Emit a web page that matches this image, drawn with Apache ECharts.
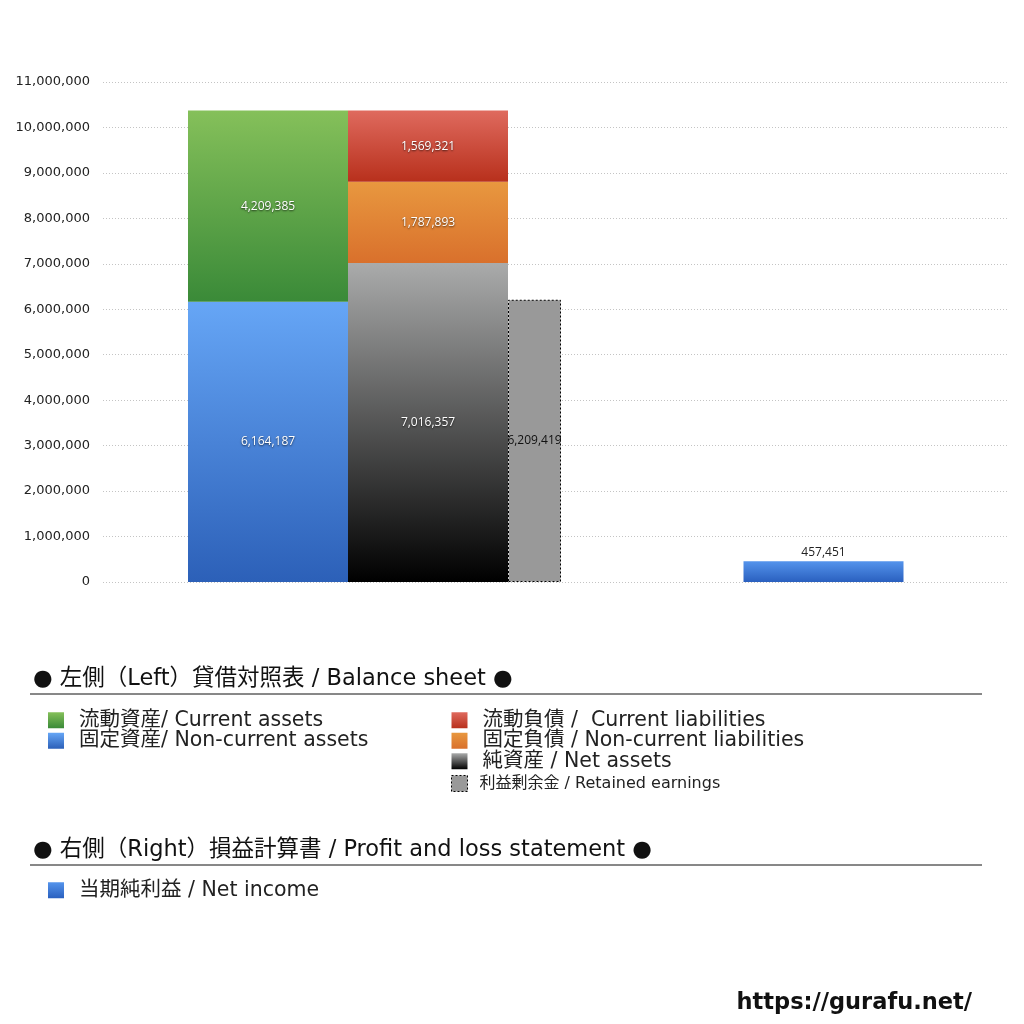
<!DOCTYPE html>
<html>
<head>
<meta charset="utf-8">
<script src="https://cdn.jsdelivr.net/npm/echarts@6/dist/echarts.min.js"></script>
<style>
html,body{margin:0;padding:0;background:#fff;}
#c{width:1024px;height:1024px;}
</style>
</head>
<body>
<div id="c"></div>
<script>
// ---- data ----
const categories = ['貸借対照表', '損益計算書'];
const currentAssets = [4209385, null];
const nonCurrentAssets = [6164187, null];
const currentLiabilities = [1569321, null];
const nonCurrentLiabilities = [1787893, null];
const netAssets = [7016357, null];
const retainedEarnings = [6209419, null];
const netIncome = [null, 457451];
const yTicks = { min: 0, max: 11000000, interval: 1000000 };

const names = {
  ca: '流動資産/ Current assets',
  nca: '固定資産/ Non-current assets',
  cl: '流動負債 /  Current liabilities',
  ncl: '固定負債 / Non-current liabilities',
  na: '純資産 / Net assets',
  re: '利益剰余金 / Retained earnings',
  ni: '当期純利益 / Net income'
};

const FONT = '"Open Sans", "Noto Sans CJK JP", sans-serif';
const WIDE = '"DejaVu Sans", "Noto Sans CJK JP", sans-serif';
function grad(top, bottom) {
  return new echarts.graphic.LinearGradient(0, 0, 0, 1, [
    { offset: 0, color: top }, { offset: 1, color: bottom }
  ]);
}
const fmt = v => Number(v).toLocaleString('en-US');
const whiteLabel = {
  show: true, position: 'inside', color: '#fff', fontSize: 12, fontFamily: FONT,
  textShadowColor: 'rgba(0,0,0,0.7)', textShadowBlur: 2, textShadowOffsetY: 1,
  formatter: p => fmt(p.value)
};
const legendText = { fontSize: 20.5, lineHeight: 20, color: '#222', fontFamily: WIDE, padding: [0, 0, 0, 10] };

const chart = echarts.init(document.getElementById('c'));
const option = {
  backgroundColor: '#fff',
  animation: false,
  textStyle: { fontFamily: FONT },
  grid: [
    { left: 103, right: 17, top: 82, bottom: 442, outerBoundsMode: 'none', containLabel: false },
    { left: 150, width: 898, top: 82, bottom: 442, outerBoundsMode: 'none', containLabel: false }
  ],
  xAxis: [
    { type: 'category', gridIndex: 0, data: categories, show: false },
    { type: 'category', gridIndex: 1, data: categories, show: false },
    { type: 'category', gridIndex: 1, data: categories, show: false, position: 'top' }
  ],
  yAxis: [
    {
      type: 'value', gridIndex: 0, min: yTicks.min, max: yTicks.max, interval: yTicks.interval,
      axisLine: { show: false }, axisTick: { show: false },
      axisLabel: { color: '#222', fontSize: 13, margin: 13, fontFamily: '"DejaVu Sans", sans-serif', formatter: v => fmt(v) },
      splitLine: { show: true, lineStyle: { color: '#c4c4c4', type: [1, 2], width: 1 } }
    },
    { type: 'value', gridIndex: 1, min: yTicks.min, max: yTicks.max, interval: yTicks.interval, show: false, splitLine: { show: false } }
  ],
  legend: [
    {
      orient: 'vertical', left: 48, top: 710, padding: 0, itemWidth: 16, itemHeight: 16, itemGap: 0,
      icon: 'rect', textStyle: legendText, selectedMode: false,
      data: [names.ca, names.nca]
    },
    {
      orient: 'vertical', left: 451, top: 710, padding: 0, itemWidth: 16, itemHeight: 16, itemGap: 0,
      icon: 'rect', textStyle: legendText, selectedMode: false,
      data: [names.cl, names.ncl, names.na,
        { name: names.re, icon: 'rect', textStyle: { fontSize: 16, lineHeight: 24, padding: [0, 0, 0, 7] },
          itemStyle: { borderColor: '#000', borderWidth: 1, borderType: [2, 2], color: '#999' } }]
    },
    {
      orient: 'vertical', left: 48, top: 880, padding: 0, itemWidth: 16, itemHeight: 16,
      icon: 'rect', textStyle: legendText, selectedMode: false,
      data: [names.ni]
    }
  ],
  series: [
    { name: names.nca, type: 'bar', stack: 'assets', xAxisIndex: 1, yAxisIndex: 1, barWidth: 160, barGap: '0%',
      data: nonCurrentAssets, itemStyle: { color: grad('#66a6f6', '#2c60b8') }, label: whiteLabel },
    { name: names.ca, type: 'bar', stack: 'assets', xAxisIndex: 1, yAxisIndex: 1, barWidth: 160, barGap: '0%',
      data: currentAssets, itemStyle: { color: grad('#85c05a', '#3a8a38') }, label: whiteLabel },
    { name: names.na, type: 'bar', stack: 'liab', xAxisIndex: 1, yAxisIndex: 1, barWidth: 160, barGap: '0%',
      data: netAssets, itemStyle: { color: grad('#aaabab', '#000000') }, label: whiteLabel },
    { name: names.ncl, type: 'bar', stack: 'liab', xAxisIndex: 1, yAxisIndex: 1, barWidth: 160, barGap: '0%',
      data: nonCurrentLiabilities, itemStyle: { color: grad('#e8983f', '#d9702c') }, label: whiteLabel },
    { name: names.cl, type: 'bar', stack: 'liab', xAxisIndex: 1, yAxisIndex: 1, barWidth: 160, barGap: '0%',
      data: currentLiabilities, itemStyle: { color: grad('#df6a5e', '#b8301c') }, label: whiteLabel },
    { name: names.re, type: 'bar', stack: 're', xAxisIndex: 1, yAxisIndex: 1, barWidth: 53, barGap: '0%',
      data: retainedEarnings,
      itemStyle: { color: '#999999', borderColor: '#000', borderWidth: 1, borderType: [2, 2] },
      label: { show: true, position: 'inside', color: '#111', fontSize: 12, fontFamily: FONT, formatter: p => fmt(p.value) } },
    { name: names.ni, type: 'bar', xAxisIndex: 2, yAxisIndex: 1, barWidth: 160,
      data: netIncome, itemStyle: { color: grad('#5494ec', '#2a60bf') },
      label: { show: true, position: 'top', color: '#222', fontSize: 12, fontFamily: FONT, distance: 3, formatter: p => fmt(p.value) } }
  ],
  graphic: [
    { type: 'text', left: 33, top: 668, style: { text: '● 左側（Left）貸借対照表 / Balance sheet ●', font: '22.5px ' + WIDE, fill: '#111' } },
    { type: 'line', shape: { x1: 30, y1: 694, x2: 982, y2: 694 }, style: { stroke: '#111', lineWidth: 1 } },
    { type: 'text', left: 33, top: 839, style: { text: '● 右側（Right）損益計算書 / Profit and loss statement ●', font: '22.5px ' + WIDE, fill: '#111' } },
    { type: 'line', shape: { x1: 30, y1: 865, x2: 982, y2: 865 }, style: { stroke: '#111', lineWidth: 1 } },
    { type: 'text', right: 52, top: 992, style: { text: 'https://gurafu.net/', font: 'bold 22.5px "DejaVu Sans", sans-serif', fill: '#111' } }
  ]
};
chart.setOption(option);
</script>
</body>
</html>
